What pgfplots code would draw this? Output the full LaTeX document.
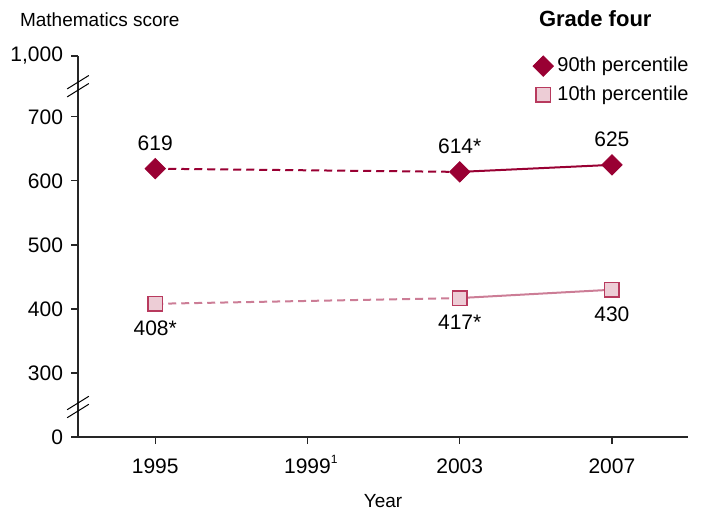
\documentclass[border=0pt]{standalone}
\usepackage{pgfplots}
\pgfplotsset{compat=1.18}
\usepackage{fontspec}
\setmainfont{Liberation Sans}
\definecolor{c90}{HTML}{990033}
\definecolor{c10line}{HTML}{CC7D96}
\definecolor{c10edge}{HTML}{B83A5E}
\definecolor{c10fill}{HTML}{EDCDD6}
\begin{document}
\begin{tikzpicture}
\begin{axis}[
  scale only axis, width=305pt, height=190.5pt,
  xmin=1992.97, xmax=2009, ymin=200, ymax=795,
  axis x line=bottom, axis y line=left,
  axis line style={-, line width=0.6pt, black!85},
  xtick={1995,1999,2003,2007},
  xticklabels={1995,1999\makebox[0pt][l]{\smash{\raisebox{0.9ex}{\fontsize{6}{7}\selectfont 1}}},2003,2007},
  ytick={200,300,400,500,600,700,795},
  yticklabels={0,300,400,500,600,700,{1,000}},
  tick align=outside, major tick length=3.5pt,
  tick style={black!85, line width=0.6pt},
  ticklabel style={font=\fontsize{10.5}{12}\selectfont},
  /pgf/number format/assume math mode=true,
  yticklabel style={xshift=-0.5pt},
  xticklabel style={yshift=-3pt, text height=8pt, text depth=0pt},
  xlabel={Year},
  xlabel style={font=\fontsize{9.5}{11}\selectfont, yshift=-4pt},
  clip=false,
  legend style={at={(rel axis cs:1,1)}, anchor=north east, yshift=1.5pt, xshift=2.5pt, draw=none, fill=none,
    font=\fontsize{10}{12}\selectfont, row sep=1.5pt, inner sep=0pt,
    /tikz/every even column/.append style={column sep=0pt}},
  legend cell align=left,
  legend image code/.code={\draw[#1] plot coordinates {(0.18cm,0cm)};},
]
% 90th percentile lines
\addplot[c90, line width=1pt, dash pattern=on 4pt off 2.5pt, forget plot] coordinates {(1995,619) (2003,614)};
\addplot[c90, line width=1pt, forget plot] coordinates {(2003,614) (2007,625)};
% 10th percentile lines
\addplot[c10line, line width=1pt, dash pattern=on 4pt off 2.5pt, forget plot] coordinates {(1995,408) (2003,417)};
\addplot[c10line, line width=1pt, forget plot] coordinates {(2003,417) (2007,430)};
% marks
\addplot[only marks, mark=square*, mark size=3.6pt, mark options={rotate=45, fill=c90, draw=c90},
  point meta=explicit symbolic, nodes near coords,
  nodes near coords style={anchor=south, inner sep=0pt, yshift=9pt, text=black, font=\fontsize{10.5}{12}\selectfont}]
  coordinates {(1995,619) [619] (2003,614) [614*] (2007,625) [625]};
\addlegendentry{90th percentile}
\addplot[only marks, mark=square*, mark size=3.6pt, mark options={fill=c10fill, draw=c10edge, line width=0.7pt},
  point meta=explicit symbolic, nodes near coords,
  nodes near coords style={anchor=north, inner sep=0pt, yshift=-8pt, text=black, font=\fontsize{10.5}{12}\selectfont}]
  coordinates {(1995,408) [408*] (2003,417) [417*] (2007,430) [430]};
\addlegendentry{10th percentile}
% axis break marks
\draw[line width=0.5pt] (axis cs:1992.97,748) ++(-5.4pt,-5.4pt) -- ++(10.8pt,6.7pt);
\draw[line width=0.5pt] (axis cs:1992.97,748) ++(-5.4pt,-1.4pt) -- ++(10.8pt,6.7pt);
\draw[line width=0.5pt] (axis cs:1992.97,247) ++(-5.4pt,-5.4pt) -- ++(10.8pt,6.7pt);
\draw[line width=0.5pt] (axis cs:1992.97,247) ++(-5.4pt,-1.4pt) -- ++(10.8pt,6.7pt);
% titles
\node[anchor=base west, font=\fontsize{9.5}{11}\selectfont] at ([xshift=-32.5pt, yshift=14.5pt]rel axis cs:0,1) {Mathematics score};
\node[font=\bfseries\fontsize{11}{13}\selectfont] at ([yshift=18.5pt]rel axis cs:0.848,1) {Grade four};
% overall margins
\path ([xshift=-39pt,yshift=-37pt]rel axis cs:0,0) rectangle ([xshift=8pt,yshift=28pt]rel axis cs:1,1);
\end{axis}
\end{tikzpicture}
\end{document}
